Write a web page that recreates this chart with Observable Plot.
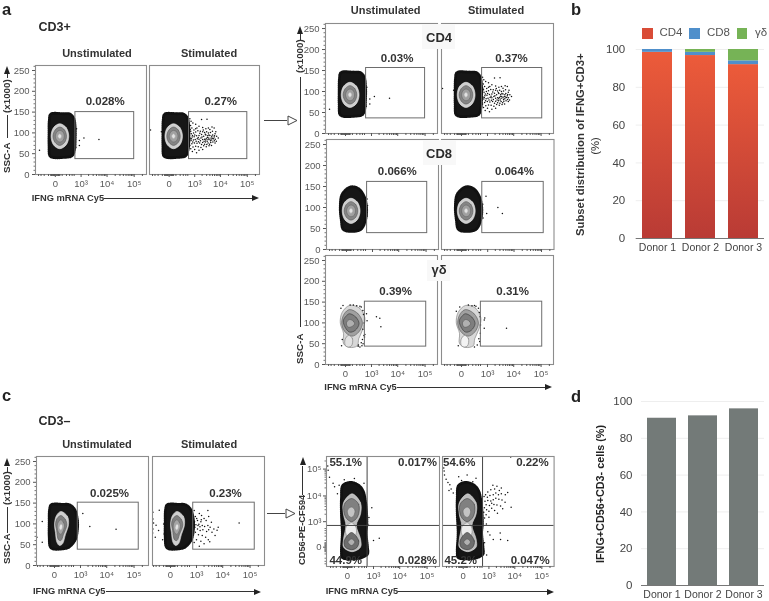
<!DOCTYPE html>
<html><head><meta charset="utf-8">
<script src="https://cdn.jsdelivr.net/npm/d3@7"></script>
<script src="https://cdn.jsdelivr.net/npm/@observablehq/plot@0.6"></script>
<style>
html,body{margin:0;padding:0;background:#fff}
#root{position:relative;width:769px;height:601px;overflow:hidden;font-family:"Liberation Sans",Arial,sans-serif;filter:blur(.3px)}
#root svg{position:absolute;max-width:none}
.t{position:absolute;white-space:pre;line-height:1}
</style></head><body><div id="root"></div>
<script>
const FONT='"Liberation Sans",Arial,sans-serif';
// ---------- bar charts ----------
const donors=["Donor 1","Donor 2","Donor 3"];
const subsets=["CD4","CD8","γδ"];
const cd4Share=[98.5,96.8,92];
const cd8Share=[1.5,1.7,2];
const gdShare=[0,1.5,6];
const nkShare=[90.9,92.2,96];
const barTicks=[0,20,40,60,80,100];
const subsetColors=["url(#redfade)","#4f8fcb","#76b356"];

// ---------- flow axes ----------
const xTickVals=[0,1e3,1e4,1e5];
const logLabels=new Map([[0,"0"],[1e3,"10³"],[1e4,"10⁴"],[1e5,"10⁵"]]);
const xMinor=[-400,-300,-200,-100,-60,-50,-40,-30,-20,-10,10,20,30,40,50,60,100,200,300,400,500,2000,3000,4000,5000,6000,7000,8000,9000,20000,30000,40000,50000,60000,70000,80000,90000,200000];
const sscTicks=[0,50,100,150,200,250];
const sscMinor=[10,20,30,40,60,70,80,90,110,120,130,140,160,170,180,190,210,220,230,240,260];

// ---------- density outlines (x = IFNG intensity, y = SSC) ----------
const blobCD3=[[-60,145],[122,146],[321,145],[480,135],[560,110],[560,85],[520,60],[400,45],[122,41],[-30,41],[-75,45],[-90,70],[-90,100],[-85,130]];
const ellipse1=[[58,122],[190,113],[270,92],[190,71],[58,62],[-20,71],[-55,92],[-20,113]];
const ellipse2=[[58,114],[150,107],[200,92],[150,77],[58,70],[-2,77],[-28,92],[-2,107]];
const ellipse3=[[58,106],[118,102],[145,92],[118,82],[58,78],[18,82],[0,92],[18,102]];
const ellipse4=[[58,98],[92,92],[58,86],[30,92]];
const blobCD8=[[51,149],[222,145],[420,128],[560,100],[500,70],[300,48],[51,43],[-40,48],[-70,70],[-88,100],[-55,132]];
const blobCD3neg=[[-40,146],[122,147],[321,146],[560,135],[740,110],[740,85],[600,62],[300,44],[122,40],[-20,40],[-55,45],[-72,70],[-72,100],[-65,135]];
const tear1=[[92,130],[252,118],[285,98],[193,75],[122,52],[66,48],[30,55],[10,80],[0,100],[23,120]];
const tear2=[[92,120],[193,110],[230,97],[144,75],[92,60],[50,62],[25,85],[12,100],[30,113]];
const tear3=[[92,110],[144,103],[170,95],[92,75],[50,80],[32,95],[50,105]];
const tear4=[[92,100],[125,95],[92,85],[60,90]];
const gd1=[[51,142],[280,136],[520,112],[420,85],[260,62],[215,45],[51,41],[-23,50],[-23,75],[-70,100],[-42,125]];
const gd2=[[51,132],[240,122],[400,100],[260,78],[90,68],[-11,80],[-48,100],[-14,122]];
const gd3=[[51,122],[185,113],[270,98],[160,82],[51,78],[-5,90],[-26,105],[5,116]];
const gd4=[[51,108],[120,104],[145,97],[70,90],[30,90],[10,100]];
const gdLobe=[[37,70],[102,62],[84,45],[37,42],[0,45],[-5,60]];
const nkBlob=[[40,32000],[200,25000],[350,15000],[450,6000],[500,2500],[520,800],[480,300],[555,0],[555,-100],[300,-180],[40,-220],[-70,-180],[-85,-60],[-70,300],[-85,2000],[-85,8000],[-60,25000]];
const nk1=[[60,12000],[252,5500],[252,2000],[140,700],[252,130],[252,0],[60,-60],[-50,0],[-50,130],[-18,700],[-51,2000],[-51,5500]];
const nkWaist=[[51,900],[130,600],[130,250],[51,150],[-15,250],[-15,600]];
const nkUp=[[51,8000],[200,4800],[170,1600],[51,1000],[-25,1600],[-40,4800]];
const nkUp2=[[51,3800],[110,2900],[90,1800],[51,1500],[10,1800],[0,2900]];
const nkLow=[[51,320],[200,90],[150,-5],[51,-30],[-25,0],[-40,90]];
const nkLow2=[[51,130],[110,70],[51,20],[5,70]];

// ---------- individual events ----------
const dotsUnstimA=[[-360,58],[850,82],[850,70],[1310,88],[4970,84],[640,110],[600,65]];
const dotsStimA=[[-500,107],[-90,95],[-120,103],[620,134],[700,128],[840,124],[1100,121],[3100,133],[1900,132],[5800,112],[4800,114],[4000,108],[3500,112],[2800,110],[2100,113],[1500,116],[1100,110],[760,112],[640,108],[590,100],[720,98],[900,100],[1100,102],[1350,105],[1700,104],[2100,103],[2500,101],[3000,103],[3500,100],[4200,101],[5000,104],[6300,98],[7200,92],[5800,90],[4700,92],[4000,94],[3300,93],[2800,95],[2300,92],[1900,96],[1500,94],[1200,93],[950,91],[780,90],[640,87],[600,80],[700,82],[880,83],[1050,84],[1280,86],[1500,85],[1800,88],[2100,84],[2500,85],[2900,86],[3400,84],[4000,85],[4700,83],[5500,86],[6400,85],[7000,80],[5200,78],[4300,77],[3400,76],[2700,78],[2100,77],[1600,76],[1250,75],[980,76],[760,74],[620,70],[680,62],[850,66],[1100,68],[1400,67],[1800,65],[2300,69],[2900,67],[3700,69],[1000,60],[1500,58],[2100,60],[800,55],[1200,52],
  [665,118],[930,107],[1240,112],[1620,99],[2230,107],[2670,97],[3180,89],[3650,95],[4450,88],[5100,95],[6000,93],[6700,103],[8300,88],[680,104],[810,94],[1010,95],[1390,89],[1720,81],[1980,90],[2380,80],[2750,83],[3150,80],[3600,88],[4200,81],[4950,87],[5900,81],[6300,76],[580,93],[730,86],[830,78],[1150,80],[1430,79],[1900,72],[2500,73],[3050,72],[3900,73],[4600,70],[620,85],[560,75],[590,110],[540,118]];
const dotsCD8L=[[600,80],[620,105],[590,120]];
const dotsCD8R=[[850,127],[2500,100],[3700,86],[910,86],[620,108],[640,75]];
const dotsGdL=[[615,122],[650,105],[1580,115],[2140,111],[2350,91],[300,140],[-30,142],[120,143],[200,141],[350,138],[420,130],[450,120],[480,100],[470,70],[400,60],[380,45],[300,42],[250,47],[-50,45],[-40,60],[420,85],[430,50],[520,72],[500,66],[60,143],[-60,135],[240,44],[350,52]];
const dotsGdR=[[770,112],[730,107],[730,87],[5410,87],[300,140],[-70,128],[-20,138],[100,143],[250,142],[400,135],[480,115],[500,95],[490,75],[420,62],[350,47],[250,42],[-40,45],[440,125],[460,55],[180,141]];
const dotsUnstimC=[[-230,106],[-430,68],[-230,56],[-76,62],[1240,125],[2330,94],[22000,87],[780,108],[740,90]];
const dotsStimC=[[-430,128],[-200,133],[-430,112],[-400,102],[-300,97],[-430,88],[-220,84],[-440,78],[-330,68],[-120,62],[-100,100],[-90,76],[800,132],[1300,125],[2800,132],[3000,118],[1600,120],[900,118],[2000,113],[700,112],[1100,108],[1500,105],[2400,108],[3800,104],[760,102],[950,98],[1250,99],[1700,96],[2100,94],[2800,96],[3400,92],[4700,88],[6200,85],[6800,92],[40000,102],[780,90],[1100,88],[1400,84],[1800,86],[2500,82],[3000,86],[4000,80],[5200,72],[900,80],[1200,74],[1700,72],[2300,68],[2900,62],[3300,57],[1000,62],[1500,58],[2000,52],[800,55],[1300,46],[690,96],[830,105],[1020,113],[1380,93],[640,84],[730,74],[860,92],[1150,96],[1560,110]];
const dotsNkL=[[-540,130000],[-520,90000],[-450,50000],[-300,30000],[-250,22000],[850,3560],[1000,98],[1700,147],[-40,40000],[100,45000],[-130,25000],[380,30000],[-170,12000],[620,700],[640,1500]];
const dotsNkR=[[-540,110000],[-520,85000],[-500,60000],[-420,42000],[-340,32000],[-270,26000],[-230,18000],[-170,13000],[-300,16000],[-60,52000],[-20,38000],[50,60000],[160,34000],[250,46000],[7000,280000],[5400,98],[7300,3700],[1450,25000],[2100,23000],[3100,20000],[2600,16000],[1700,18000],[1200,17000],[900,14000],[720,11000],[860,9000],[1100,10500],[1500,11000],[1900,13000],[2400,11000],[3100,12000],[4400,11000],[5400,13500],[900,6800],[1200,6500],[1500,7200],[1900,8200],[2500,7500],[3300,7000],[4300,5800],[760,4700],[1050,4400],[1300,5300],[1600,4800],[2100,4500],[2900,4200],[3500,3300],[800,3000],[1000,2600],[1300,3400],[1700,2800],[2200,2200],[760,1900],[1000,1500],[650,1400],[780,800],[900,350],[1100,230],[1500,120],[2800,300],[2900,120],[650,60],[800,-120],[620,9500],[680,6300],[640,3600],[600,2400]];

// ---------- gates and percentages ----------
const sscDomain=[0,262];
const leftDomain=[-555,283000];
const cDomain=[-450,335000];
const nkDomainX=[-615,283000];
const nkDomainY=[-537,293000];
const gateA=[570,1e5,37,150];

const root=document.getElementById("root");
const add=(el,x,y)=>{el.style.left=x+"px";el.style.top=y+"px";root.appendChild(el);return el;};
function text(s,x,y,o={}){ // x,y: anchor, baseline
  const d=document.createElement("div");d.className="t";d.textContent=s;
  const a=o.anchor||"start";const size=o.size||11;
  d.style.fontSize=size+"px";d.style.fontWeight=o.weight||"normal";d.style.color=o.color||"#2b2b2b";
  if(o.rotate){ // vertical text reading upward; x centre, y = bottom end
    d.style.transformOrigin="0 0";d.style.transform=`rotate(-90deg) translate(0,${-size/2}px)`;
    if(a==="middle")d.style.transform=`rotate(-90deg) translate(-50%,${-size/2}px)`;
    add(d,x,y);
  }else{
    d.style.transform=a==="middle"?"translateX(-50%)":a==="end"?"translateX(-100%)":"none";
    add(d,x,y-size*0.88);
  }
  return d;
}
function box(x,y,w,h,c){const d=document.createElement("div");d.style.cssText=`position:absolute;width:${w}px;height:${h}px;background:${c}`;return add(d,x,y);}
function hArrow(x1,x2,y){box(x1,y-.5,x2-x1-5,1,"#333");
  const d=document.createElement("div");d.style.cssText="position:absolute;width:0;height:0;border-left:7px solid #222;border-top:3px solid transparent;border-bottom:3px solid transparent";add(d,x2-7,y-3);}
function upHead(x,y){const d=document.createElement("div");d.style.cssText="position:absolute;width:0;height:0;border-bottom:8px solid #222;border-left:3px solid transparent;border-right:3px solid transparent";add(d,x-3,y);}
function hollow(x1,x2,y){box(x1,y-.5,x2-x1,1,"#444");
  const ns="http://www.w3.org/2000/svg";const s=document.createElementNS(ns,"svg");s.setAttribute("width",12);s.setAttribute("height",12);
  const p=document.createElementNS(ns,"polygon");p.setAttribute("points","1,1 10,5.5 1,10");p.setAttribute("fill","#fff");p.setAttribute("stroke","#444");s.appendChild(p);
  s.style.left=x2+"px";s.style.top=(y-5.5)+"px";root.appendChild(s);}

const ring=(pts,fill,stroke="#555",w=.6)=>Plot.line(pts,{x:d=>d[0],y:d=>d[1],curve:"catmull-rom-closed",fill,stroke,strokeWidth:w});
const edge=pts=>Plot.line(pts,{x:d=>d[0],y:d=>d[1],curve:"catmull-rom-closed",stroke:"#111",strokeWidth:2.8,strokeDasharray:"1 1.1"});
const events=ds=>Plot.dot(ds,{x:d=>d[0],y:d=>d[1],r:.75,fill:"#111"});
const singleCore=[ring(ellipse1,"#cfcfcf","#eee"),ring(ellipse2,"#858585","#555"),ring(ellipse3,"#a0a0a0","#666"),ring(ellipse4,"#e2e2e2","#aaa")];
const cd3Shape=[ring(blobCD3,"#161616","#111"),edge(blobCD3),...singleCore];
const cd8Shape=[ring(blobCD8,"#161616","#111"),edge(blobCD8),...singleCore];
const tearShape=[ring(blobCD3neg,"#161616","#111"),edge(blobCD3neg),ring(tear1,"#cfcfcf","#ddd"),ring(tear2,"#808080","#555"),ring(tear3,"#a5a5a5","#666"),ring(tear4,"#e5e5e5","#aaa")];
const gdShape=(lobeFill)=>[ring(gd1,"#d8d8d8","#777"),ring(gd2,"#a0a0a0","#555"),ring(gd3,"#7e7e7e","#333"),ring(gd4,"#b0b0b0","#555"),ring(gdLobe,lobeFill,"#777")];
const nkShape=[ring(nkBlob,"#161616","#111"),edge(nkBlob),ring(nk1,"#bdbdbd","#ddd"),ring(nkWaist,"#ededed","#888"),ring(nkUp,"#808080","#444"),ring(nkUp2,"#c4c4c4","#666"),ring(nkLow,"#6e6e6e","#333"),ring(nkLow2,"#b0b0b0","#555")];

function panel(o){
  const W=o.x1-o.x0,H=o.y1-o.y0,mL=o.yAxis?32:1,mR=1,mT=1,mB=22;
  const axisCol="#5a5a5a";
  const marks=[...(o.shape||[]),events(o.dots||[])];
  if(o.gate){const [a,b,c,d]=o.gate;marks.push(Plot.rect([0],{x1:[a],x2:[b],y1:[c],y2:[d],stroke:"#6d6d6d",strokeWidth:1,fill:"none"}));}
  if(o.nkLines){marks.push(Plot.ruleX([o.nkLines[0]],{stroke:"#444"}),Plot.ruleY([o.nkLines[1]],{stroke:"#444"}));}
  if(o.labels)marks.push(Plot.text(o.labels,{x:d=>d[1],y:d=>d[2],text:d=>d[0],fontSize:11.5,fontWeight:"bold",fill:"#333",fontFamily:FONT}));
  marks.push(Plot.frame({stroke:"#8c8c8c",strokeWidth:1.1}));
  marks.push(Plot.axisX(xMinor,{tickSize:2,tickFormat:()=>"",label:null,stroke:"#555"}));
  marks.push(Plot.axisX(xTickVals,{tickSize:3,tickPadding:3,fontSize:9.5,label:null,stroke:"#555",fill:axisCol,tickFormat:o.xLabels?(d=>logLabels.get(d)):()=>""}));
  if(o.yAxis==="ssc"){
    marks.push(Plot.axisY(sscMinor,{tickSize:1.5,tickFormat:()=>"",label:null,stroke:"#777"}));
    marks.push(Plot.axisY(sscTicks,{tickSize:3,tickPadding:3,fontSize:9.5,label:null,stroke:"#555",fill:axisCol}));
  }else if(o.yAxis==="log"){
    marks.push(Plot.axisY(xMinor,{tickSize:1.5,tickFormat:()=>"",label:null,stroke:"#777"}));
    marks.push(Plot.axisY(xTickVals,{tickSize:3,tickPadding:2,fontSize:9.5,label:null,stroke:"#555",fill:axisCol,tickFormat:d=>logLabels.get(d)}));
  }
  const chart=Plot.plot({width:W+mL+mR,height:H+mT+mB,marginLeft:mL,marginRight:mR,marginTop:mT,marginBottom:mB,
    style:{background:"transparent",fontFamily:FONT,overflow:"visible"},
    x:{type:"symlog",constant:128,domain:o.xDomain||leftDomain,axis:null,label:null},
    y:o.yAxis==="log"||o.logY?{type:"symlog",constant:128,domain:nkDomainY,axis:null,label:null}:{domain:sscDomain,axis:null,label:null},
    marks});
  add(chart,o.x0-mL,o.y0-mT);
}

// panel a, left
panel({x0:35,x1:146,y0:65,y1:174,yAxis:"ssc",xLabels:true,shape:cd3Shape,dots:dotsUnstimA,gate:gateA,labels:[["0.028%",8530,176]]});
panel({x0:149,x1:259,y0:65,y1:174,xLabels:true,shape:cd3Shape,dots:dotsStimA,gate:gateA,labels:[["0.27%",10300,176]]});
// panel a, right
panel({x0:325,x1:437,y0:23,y1:133,yAxis:"ssc",shape:cd3Shape,dots:dotsUnstimA,gate:[590,1e5,36,156],labels:[["0.03%",9460,180]]});
panel({x0:441,x1:553,y0:23,y1:133,shape:cd3Shape,dots:dotsStimA,gate:[590,1.1e5,36,156],labels:[["0.37%",8290,180]]});
panel({x0:326,x1:438,y0:139,y1:249,yAxis:"ssc",shape:cd8Shape,dots:dotsCD8L,gate:[590,1.1e5,39,161],labels:[["0.066%",8900,186]]});
panel({x0:441,x1:553.5,y0:139,y1:249,shape:cd8Shape,dots:dotsCD8R,gate:[590,1.2e5,39,161],labels:[["0.064%",10300,186]]});
panel({x0:325,x1:437,y0:255,y1:364,yAxis:"ssc",xLabels:true,shape:gdShape("#e2e2e2"),dots:dotsGdL,gate:[520,1.1e5,43,151],labels:[["0.39%",8400,176]]});
panel({x0:441,x1:553,y0:255,y1:364,xLabels:true,shape:gdShape("#f3f3f3"),dots:dotsGdR,gate:[520,1.1e5,43,151],labels:[["0.31%",9100,176]]});
// panel c
panel({x0:36,x1:148,y0:456,y1:565,yAxis:"ssc",xLabels:true,xDomain:cDomain,shape:tearShape,dots:dotsUnstimC,gate:[770,148000,38,151],labels:[["0.025%",12700,174]]});
panel({x0:152,x1:264,y0:456,y1:565,xLabels:true,xDomain:cDomain,shape:tearShape,dots:dotsStimC,gate:[730,148000,38,151],labels:[["0.23%",12700,174]]});
panel({x0:325.7,x1:438.7,y0:456,y1:566,yAxis:"log",xLabels:true,xDomain:nkDomainX,shape:nkShape,dots:dotsNkL,nkLines:[532,690],labels:[["55.1%",-20,171000],["0.017%",45000,171000],["44.9%",-20,-270],["0.028%",45000,-270]]});
panel({x0:441.7,x1:553.3,y0:456,y1:566,logY:true,xLabels:true,xDomain:nkDomainX,shape:nkShape,dots:dotsNkR,nkLines:[530,690],labels:[["54.6%",-51,171000],["0.22%",45000,171000],["45.2%",-30,-270],["0.047%",37000,-270]]});

// bar charts
function stacked(){
  const rows=donors.flatMap((d,i)=>[{donor:d,subset:subsets[0],v:cd4Share[i]},{donor:d,subset:subsets[1],v:cd8Share[i]},{donor:d,subset:subsets[2],v:gdShare[i]}]);
  const defs=()=>{const s=d3.create("svg:defs");const g=s.append("linearGradient").attr("id","redfade").attr("x1",0).attr("x2",0).attr("y1",0).attr("y2",1);
    g.append("stop").attr("offset","0").attr("stop-color","#ec5b3a");g.append("stop").attr("offset","1").attr("stop-color","#b93b35");return s.node();};
  const ch=Plot.plot({width:165,height:218,marginLeft:35.7,marginRight:1,marginTop:6,marginBottom:23,
    style:{background:"transparent",fontFamily:FONT,overflow:"visible"},
    x:{domain:donors,paddingInner:.3,paddingOuter:.14,axis:null,label:null},
    y:{domain:[0,100],axis:null,label:null},
    color:{domain:subsets,range:subsetColors},
    marks:[defs,Plot.gridY(barTicks,{stroke:"#eee",strokeOpacity:1}),
      Plot.barY(rows,{x:"donor",y:"v",fill:"subset",order:subsets}),
      Plot.ruleY([0],{stroke:"#777",strokeWidth:1.2}),
      Plot.axisY(barTicks,{tickSize:0,tickPadding:11,fontSize:11.5,fill:"#444",label:null}),
      Plot.axisX(donors,{tickSize:0,tickPadding:5,fontSize:10.5,fill:"#444",label:null})]});
  add(ch,600,43);
}
function single(){
  const ch=Plot.plot({width:165,height:213,marginLeft:41,marginRight:1,marginTop:6,marginBottom:23,
    style:{background:"transparent",fontFamily:FONT,overflow:"visible"},
    x:{domain:donors,paddingInner:.3,paddingOuter:.14,axis:null,label:null},
    y:{domain:[0,100],axis:null,label:null},
    marks:[Plot.gridY(barTicks,{stroke:"#eee",strokeOpacity:1}),
      Plot.barY(donors.map((d,i)=>({donor:d,v:nkShare[i]})),{x:"donor",y:"v",fill:"#737a78"}),
      Plot.ruleY([0],{stroke:"#777",strokeWidth:1.2}),
      Plot.axisY(barTicks,{tickSize:0,tickPadding:9,fontSize:11.5,fill:"#444",label:null}),
      Plot.axisX(donors,{tickSize:0,tickPadding:5,fontSize:10.5,fill:"#444",label:null})]});
  add(ch,600,395);
}
stacked();single();

// centre labels over right column
box(422,24,33,25,"#f8f8f8");box(423,140,33,25,"#f8f8f8");box(427,260,23,21,"#f8f8f8");
text("CD4",439,42,{anchor:"middle",size:13,weight:"bold"});
text("CD8",439,158,{anchor:"middle",size:13,weight:"bold"});
text("γδ",439,274,{anchor:"middle",size:13,weight:"bold"});

// titles
const B={weight:"bold"};
text("a",2,16,{size:16.5,...B,color:"#222"});text("b",571,16,{size:16.5,...B,color:"#222"});
text("c",2,402,{size:16.5,...B,color:"#222"});text("d",571,402.6,{size:16.5,...B,color:"#222"});
text("CD3+",38.5,32,{size:12.5,...B});text("CD3–",38.5,426,{size:12.5,...B});
for(const [x,y,s] of [[97,58,"Unstimulated"],[209,58,"Stimulated"],[385.7,15,"Unstimulated"],[496,15,"Stimulated"],[97,449,"Unstimulated"],[209,449,"Stimulated"]])
  text(s,x,y,{anchor:"middle",size:11,...B,color:"#333"});

// x titles and arrows
for(const [x,y,x2] of [[31.7,201.7,259],[324.3,390.7,552],[33,595,261],[325.7,595,553.5]]){
  text("IFNG mRNA Cy5",x,y,{size:9.3,...B,color:"#333"});
  hArrow(x+72.5,x2,y-3.5);
}
// y titles and arrows
function sscTitle(x,bottom,lineTop,lineBot,k1,shortTop,shortBot,head){
  text("SSC-A",x,bottom,{size:9.8,...B,rotate:true,color:"#333"});
  text("(x1000)",x,k1,{size:9.8,...B,rotate:true,color:"#333"});
  box(x-.5,lineTop,1,lineBot-lineTop,"#333");
  box(x-.5,shortTop,1,shortBot-shortTop,"#333");
  upHead(x,head);
}
sscTitle(7,173,115,138,113,72,78,66);
sscTitle(7,564,507,533,505,467,473,458);
sscTitle(300,364,77,327,73,33,41,26);
text("CD56-PE-CF594",302.7,565,{size:9.3,...B,rotate:true,color:"#333"});
box(302.2,466,1,29,"#333");upHead(302.7,457);

// connectors
hollow(264,286.5,120.7);hollow(266.7,285,513);

// bar titles and legend
text("Subset distribution of IFNG+CD3+",581,236,{size:11.3,rotate:true,color:"#333",weight:"bold"});
text("(%)",596,146,{size:11.3,rotate:true,color:"#333",anchor:"middle"});
text("IFNG+CD56+CD3- cells (%)",600,563,{size:10.8,rotate:true,color:"#222",weight:"bold"});
const lg=[["CD4",642,659.5],["CD8",689,707],["γδ",736.7,755]];
lg.forEach(([s,x,tx],i)=>{box(x,28,10.5,10.5,i?subsetColors[i]:"#d94c37");text(s,tx,37.5,{size:11.5,color:"#555"});});
</script></body></html>
